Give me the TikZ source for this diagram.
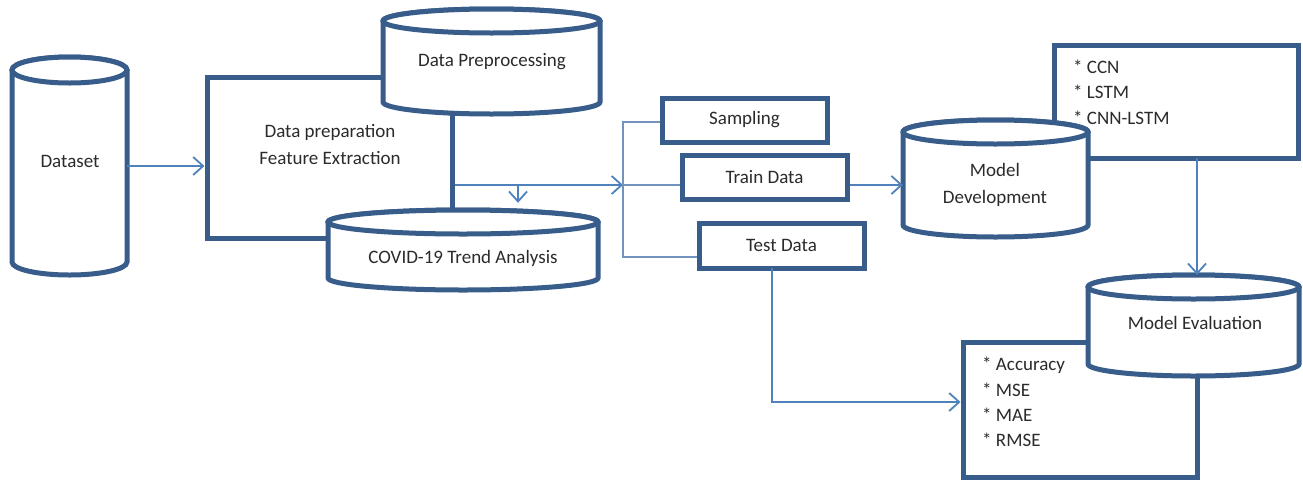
\documentclass[tikz,border=0pt]{standalone}
\usepackage{fontspec}
\setmainfont{Carlito}
\usetikzlibrary{arrows.meta}
\definecolor{edgec}{HTML}{385D8A}
\definecolor{connc}{HTML}{4F81BD}
\definecolor{brkc}{HTML}{7393BF}
\definecolor{txtc}{HTML}{2B2B2B}
\tikzset{
 shapeline/.style={draw=edgec, line width=5pt, fill=white, line join=miter},
 boxst/.style={shapeline, rectangle, inner sep=0pt, text=txtc, font=\fontsize{19}{22}\selectfont},
 lbl/.style={text=txtc, font=\fontsize{19}{22}\selectfont, inner sep=0pt},
 lbltwo/.style={lbl, align=center, font=\fontsize{19}{27}\selectfont},
 arr/.style={draw=connc, line width=1.8pt, -{Straight Barb[length=10pt,width=18pt,line width=1.8pt]}},
 brline/.style={draw=brkc, line width=1.3pt},
}
\newcommand\mycyl[6]{%
 \pgfmathsetmacro\cylcx{(#2+#3)/2}%
 \pgfmathsetmacro\cylrx{(#3-#2)/2}%
 \pgfmathsetmacro\cylcy{(#4+#5)/2}%
 \pgfmathsetmacro\cylh{#5-#4+2*#6}%
 \pgfmathsetmacro\cylw{#3-#2}%
 \path[shapeline] (#2,#4) -- (#2,#5) arc[start angle=180,end angle=360,x radius=\cylrx pt,y radius=#6 pt] -- (#3,#4) arc[start angle=0,end angle=180,x radius=\cylrx pt,y radius=#6 pt] -- cycle;
 \draw[shapeline] (\cylcx,#4) ellipse[x radius=\cylrx pt,y radius=#6 pt];
 \node[inner sep=0pt, minimum width=\cylw pt, minimum height=\cylh pt] (#1) at (\cylcx,\cylcy) {};
}
\begin{document}
\begin{tikzpicture}[x=1pt,y=-1pt]
\useasboundingbox (0,0) rectangle (1303,480);
% Dataset
\mycyl{ds}{12}{127}{70}{262}{13}
\node[lbl] (dstxt) at (70,161) {Dataset};
% Data preparation box + cylinders
\node[boxst, minimum width=245pt, minimum height=161pt] (prep) at (329.5,157.5) {};
\mycyl{dp}{383}{600}{21}{102}{12}
\mycyl{covid}{328}{598}{222}{278}{12}
\node[lbltwo] (preptxt) at (330,144) {Data preparation\\Feature Extraction};
\node[lbl] (dptxt) at (492,62) {Data Preprocessing};
\node[lbl] (covidtxt) at (463,258) {COVID-19 Trend Analysis};
% split boxes
\node[boxst, minimum width=165pt, minimum height=44pt] (samp) at (744.5,120) {Sampling};
\node[boxst, minimum width=165pt, minimum height=44pt] (train) at (764.5,177) {Train Data};
\node[boxst, minimum width=165pt, minimum height=45pt] (test) at (781.5,245.5) {Test Data};
% model list box + model development
\node[boxst, minimum width=244pt, minimum height=113pt] (cnn) at (1176,101.5) {};
\mycyl{md}{903}{1088}{132}{225}{12}
\node[lbltwo] (mdtxt) at (995,185) {Model\\Development};
\node[lbl, anchor=west] (l1) at (1073,67) {* CCN};
\node[lbl, anchor=west] (l2) at (1073,92) {* LSTM};
\node[lbl, anchor=west] (l3) at (1073,118) {* CNN-LSTM};
% metrics box + model evaluation
\node[boxst, minimum width=234pt, minimum height=135pt] (metrics) at (1080,409.5) {};
\mycyl{me}{1088}{1299}{287}{364}{12}
\node[lbl] (metxt) at (1195,323) {Model Evaluation};
\node[lbl, anchor=west] (m1) at (982,365) {* Accuracy};
\node[lbl, anchor=west] (m2) at (982,390) {* MSE};
\node[lbl, anchor=west] (m3) at (982,415) {* MAE};
\node[lbl, anchor=west] (m4) at (982,440) {* RMSE};
% connectors
\coordinate (br) at (623,185);
\coordinate (bt) at (623,122);
\coordinate (bb) at (623,257);
\coordinate (dn) at (518,185);
\coordinate (tm) at (847,185);
\coordinate (ce) at (1197,158);
\coordinate (tb) at (772,268);
\coordinate (mt) at (958,402);
\draw[arr] (ds.east) -- (ds.east -| prep.west);
\draw[arr] (prep.east |- br) -- (br);
\draw[arr, shorten >=7pt] (dn) -- (dn |- covid.north);
\draw[brline] (samp.west |- bt) -- (bt) -- (bb) -- (bb -| test.west);
\draw[brline] (br) -- (br -| train.west);
\draw[arr] (train.east |- tm) -- (md.west |- tm);
\draw[arr] (ce) -- (ce |- me.north);
\draw[arr] (tb) |- (metrics.west |- mt);
\end{tikzpicture}
\end{document}
